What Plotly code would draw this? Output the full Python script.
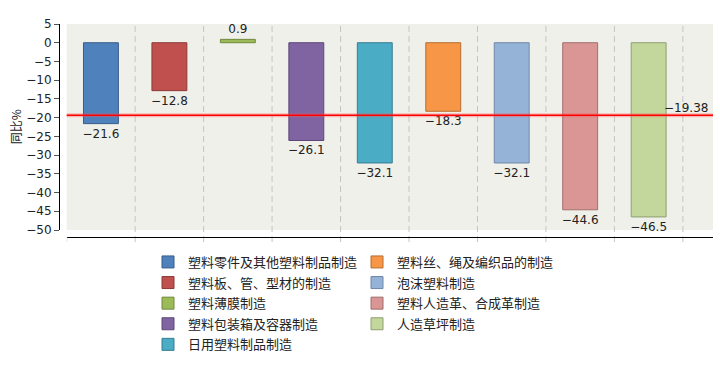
import plotly.graph_objects as go

categories = ["塑料零件及其他塑料制品制造", "塑料板、管、型材的制造", "塑料薄膜制造",
              "塑料包装箱及容器制造", "日用塑料制品制造", "塑料丝、绳及编织品的制造",
              "泡沫塑料制造", "塑料人造革、合成革制造", "人造草坪制造"]
values = [-21.6, -12.8, 0.9, -26.1, -32.1, -18.3, -32.1, -44.6, -46.5]
colors = ["#4F81BD", "#C0504D", "#9BBB59", "#8064A2", "#4BACC6",
          "#F79646", "#95B3D7", "#D99694", "#C3D69B"]
borders = ["#385D8A", "#8C3836", "#71893F", "#5C4776", "#357D91",
           "#B66D31", "#6F87A6", "#A06E6C", "#8FA072"]
average = -19.38
y_ticks = list(range(-50, 6, 5))

L, R, T, B = 59, 7, 23.5, 128
PW = 720 - L - R
PH = 365 - T - B
x_off = 7.7 / PW
y_off = 7 / PH

def fmt(v, d=1):
    return f"{v:.{d}f}".replace("-", "\u2212")

fig = go.Figure()
for i in range(len(categories)):
    fig.add_trace(go.Bar(
        x=[i], y=[values[i]], name=categories[i], width=0.51,
        marker=dict(color=colors[i], line=dict(color=borders[i], width=1)),
        text=[fmt(values[i])], textposition="outside", cliponaxis=False,
        constraintext="none",
        textfont=dict(family="DejaVu Sans", size=12, color="#222222"),
        hoverinfo="skip", legendgroup=f"g{i}",
        legend="legend" if i < 5 else "legend2",
    ))

shapes = []
for k in range(len(categories)):
    shapes.append(dict(type="line", xref="x", yref="paper", x0=k + 0.5, x1=k + 0.5,
                       y0=-5 / PH, y1=1, line=dict(color="#C4C4C4", width=1, dash="6px,4px"),
                       layer="below"))
shapes.append(dict(type="line", xref="x", yref="paper", x0=-0.5, x1=-0.5,
                   y0=-5 / PH, y1=0, line=dict(color="#C4C4C4", width=1)))
shapes.append(dict(type="line", xref="x domain", yref="y", x0=0, x1=1, y0=average, y1=average,
                   line=dict(color="rgba(255,80,80,0.35)", width=4)))
shapes.append(dict(type="line", xref="x domain", yref="y", x0=0, x1=1, y0=average, y1=average,
                   line=dict(color="#FF0000", width=1.6)))

leg_common = dict(orientation="v", xref="container", yref="container",
                  xanchor="left", yanchor="top", traceorder="grouped", tracegroupgap=0.7,
                  font=dict(family="Noto Sans CJK SC", size=13, color="#222222"),
                  bgcolor="rgba(0,0,0,0)", itemclick=False, itemdoubleclick=False)

fig.update_layout(
    template="none",
    width=720, height=365,
    margin=dict(l=L, r=R, t=T, b=B, pad=0, autoexpand=False),
    paper_bgcolor="white", plot_bgcolor="#F0F0EA",
    barmode="overlay", showlegend=True,
    xaxis=dict(domain=[x_off, 1], range=[-0.5, 8.94], anchor="free", position=0,
               showline=True, linecolor="#000000", linewidth=1, automargin=False,
               showgrid=False, zeroline=False, showticklabels=False, ticks=""),
    yaxis=dict(domain=[y_off, 1], range=[-50, 5], anchor="free", position=0,
               tickvals=y_ticks, showline=True, linecolor="#000000", linewidth=1,
               ticks="outside", ticklen=5, tickcolor="#555555", automargin=False,
               showgrid=False, zeroline=False,
               tickfont=dict(family="DejaVu Sans", size=12, color="#222222")),
    shapes=shapes,
    annotations=[
        dict(xref="x domain", yref="y", x=1, y=average, text=fmt(average, 2),
             xanchor="right", yanchor="bottom", xshift=-3, yshift=-2, showarrow=False,
             font=dict(family="DejaVu Sans", size=12, color="#222222")),
        dict(xref="paper", yref="paper", x=-44 / PW, y=(237 - 127) / PH,
             text="同比%", textangle=-90, showarrow=False, xanchor="center", yanchor="middle",
             font=dict(family="Noto Sans CJK SC", size=12, color="#222222")),
    ],
    legend=dict(x=148 / 720, y=1 - 247 / 365, **leg_common),
    legend2=dict(x=357 / 720, y=1 - 247 / 365, **leg_common),
)

fig.write_html("out.html", config={"displayModeBar": False},
               post_script="document.body.style.margin='0';")
